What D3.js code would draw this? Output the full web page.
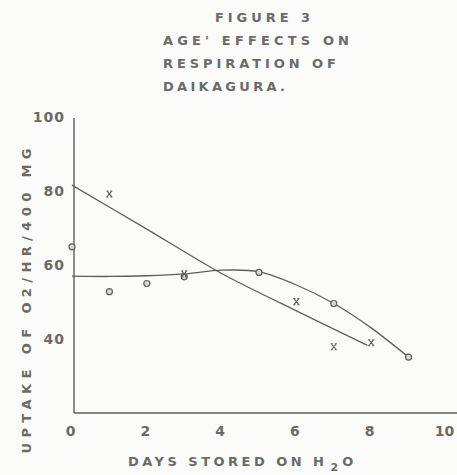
<!DOCTYPE html>
<html>
<head>
<meta charset="utf-8">
<script src="https://cdn.jsdelivr.net/npm/d3@7"></script>
<style>
  body { margin: 0; background: #fbfbf9; }
  text { font-family: "DejaVu Sans", sans-serif; font-weight: bold; fill: #6a6a6a; }
</style>
</head>
<body>
<div id="chart"></div>
<script>
// values
var titleLines = ["FIGURE 3", "AGE' EFFECTS ON", "RESPIRATION OF", "DAIKAGURA."];
var xTicks = [0, 2, 4, 6, 8, 10];
var yTicks = [40, 60, 80, 100];

// circles (o)
var circleDays = [0, 1, 2, 3, 5, 7, 9];
var circleUptake = [64.9, 52.8, 55.0, 56.8, 58.0, 49.6, 35.1];

// crosses (x)
var crossDays = [1, 3, 6, 7, 8];
var crossUptake = [79.2, 57.6, 50.1, 37.9, 39.0];

// hand-drawn fitted curves, knots
var crossFitDays = [0, 2, 4, 6, 7.9];
var crossFitUptake = [81.6, 69.7, 57.7, 47.6, 38.3];
var circleFitDays = [0, 1, 2, 3, 4, 5, 6, 7, 8, 9];
var circleFitUptake = [57.0, 56.9, 57.1, 57.6, 58.6, 58.2, 54.6, 49.6, 43.0, 35.1];

var width = 457, height = 475;
var ink = "#5e5e5e";

var svg = d3.select("#chart").append("svg")
  .attr("width", width)
  .attr("height", height);

var x = d3.scaleLinear().domain([0, 10]).range([72, 446]);
var y = d3.scaleLinear().domain([20, 100]).range([413, 117]);

// title block, lettering-guide style, wide spacing
var titleX = [215, 163, 163, 163];
var titleW = [95, 186, 173, 122];
svg.selectAll("text.title")
  .data(titleLines)
  .enter().append("text")
  .attr("class", "title")
  .attr("x", function(d, i) { return titleX[i]; })
  .attr("y", function(d, i) { return 22 + i * 23; })
  .attr("textLength", function(d, i) { return titleW[i]; })
  .attr("lengthAdjust", "spacing")
  .style("font-size", "13px")
  .text(function(d) { return d; });

// axes, no tick marks
var xAxis = d3.axisBottom(x).tickValues(xTicks).tickSize(0).tickPadding(13);
var gx = svg.append("g")
  .attr("transform", "translate(0," + y(20) + ")")
  .call(xAxis);
gx.select(".domain").attr("d", "M" + (x(0) + 2) + ",0H" + width)
  .attr("stroke", ink).attr("stroke-width", 1.4);
gx.selectAll("text").style("font-size", "14px").style("font-family", "DejaVu Sans")
  .attr("dx", -2);

var yAxis = d3.axisLeft(y).tickValues(yTicks).tickSize(0).tickPadding(9);
var gy = svg.append("g")
  .attr("transform", "translate(" + (x(0) + 2) + ",0)")
  .call(yAxis);
gy.select(".domain").attr("d", "M0," + y(20) + "V" + (y(100) + 1))
  .attr("stroke", ink).attr("stroke-width", 1.4);
gy.selectAll("text").style("font-size", "14px").style("font-family", "DejaVu Sans")
  .style("letter-spacing", "1px");

// axis titles
var xl = svg.append("text")
  .attr("x", 128).attr("y", 466)
  .style("font-size", "13px");
xl.append("tspan").attr("textLength", 196).attr("lengthAdjust", "spacing")
  .text("DAYS STORED ON H");
xl.append("tspan").attr("dx", 3).attr("dy", 5).style("font-size", "11px").text("2");
xl.append("tspan").attr("dx", 4).attr("dy", -5).text("O");

svg.append("text")
  .attr("transform", "translate(31,301) rotate(-90)")
  .attr("text-anchor", "middle")
  .attr("textLength", 305)
  .attr("lengthAdjust", "spacing")
  .style("font-size", "13px")
  .text("UPTAKE OF O2/HR/400 MG");

// fitted curves
var crossFit = d3.zip(crossFitDays, crossFitUptake);
var circleFit = d3.zip(circleFitDays, circleFitUptake);

var line = d3.line()
  .x(function(d) { return x(d[0]); })
  .y(function(d) { return y(d[1]); })
  .curve(d3.curveCardinal.tension(0.2));

svg.append("path")
  .datum(crossFit)
  .attr("fill", "none").attr("stroke", ink).attr("stroke-width", 1.3)
  .attr("d", line);

svg.append("path")
  .datum(circleFit)
  .attr("fill", "none").attr("stroke", ink).attr("stroke-width", 1.3)
  .attr("d", line);

// circle markers
svg.append("g")
  .selectAll("circle")
  .data(d3.zip(circleDays, circleUptake))
  .enter().append("circle")
  .attr("cx", function(d) { return x(d[0]); })
  .attr("cy", function(d) { return y(d[1]); })
  .attr("r", 3)
  .attr("fill", "#d8d8d4")
  .attr("stroke", ink)
  .attr("stroke-width", 1.2);

// cross markers
svg.append("g")
  .selectAll("path")
  .data(d3.zip(crossDays, crossUptake))
  .enter().append("path")
  .attr("transform", function(d) { return "translate(" + x(d[0]) + "," + y(d[1]) + ")"; })
  .attr("d", "M-2.5,-3L2.5,3M2.5,-3L-2.5,3M-3,-3H-1M1,-3H3M-3,3H-1M1,3H3")
  .attr("fill", "none")
  .attr("stroke", ink)
  .attr("stroke-width", 1.1);
</script>
</body>
</html>
